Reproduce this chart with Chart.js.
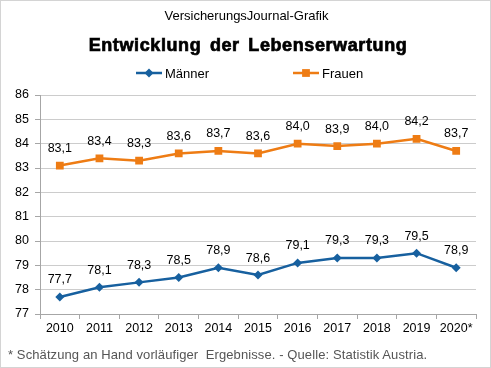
<!DOCTYPE html>
<html><head><meta charset="utf-8">
<script src="https://cdn.jsdelivr.net/npm/chart.js@4/dist/chart.umd.min.js"></script>
<style>
html,body{margin:0;padding:0;background:#fff;}
#wrap{position:relative;width:491px;height:368px;box-sizing:border-box;border:1px solid #d4d4d4;overflow:hidden;font-family:"Liberation Sans",Arial,sans-serif;}
#cv{position:absolute;left:0;top:0;}
.t{position:absolute;white-space:nowrap;}
</style></head>
<body><div id="wrap">
<canvas id="cv" width="491" height="368"></canvas>
<div class="t" id="sub" style="left:0;width:491px;text-align:center;top:7px;font-size:13px;color:#000;">VersicherungsJournal-Grafik</div>
<div class="t" id="ttl" style="left:0;width:494px;text-align:center;top:34px;font-size:18px;font-weight:bold;color:#000;word-spacing:3px;letter-spacing:0.6px;-webkit-text-stroke:0.7px #000;">Entwicklung der Lebenserwartung</div>
<div class="t" id="foot" style="left:7px;top:346px;font-size:13px;letter-spacing:0.1px;color:#555;">* Schätzung an Hand vorläufiger&nbsp; Ergebnisse. - Quelle: Statistik Austria.</div>
</div>
<script>
const categories = ["2010","2011","2012","2013","2014","2015","2016","2017","2018","2019","2020*"];
const maenner = [77.7,78.1,78.3,78.5,78.9,78.6,79.1,79.3,79.3,79.5,78.9];
const frauen  = [83.1,83.4,83.3,83.6,83.7,83.6,84.0,83.9,84.0,84.2,83.7];
const yTicks = [77,78,79,80,81,82,83,84,85,86];
const seriesNames = ["Männer","Frauen"];

const BLUE = "#17609F", ORANGE = "#EE7C14";
const FONT = "'Liberation Sans', Arial, sans-serif";

const fmt = v => v.toFixed(1).replace('.', ',');

const labelPlugin = {
  id: 'vals',
  afterDatasetsDraw(chart) {
    const ctx = chart.ctx;
    ctx.save();
    ctx.font = "12.5px " + FONT;
    ctx.fillStyle = "#000";
    ctx.textAlign = "center";
    ctx.textBaseline = "middle";
    chart.data.datasets.forEach((ds, i) => {
      chart.getDatasetMeta(i).data.forEach((pt, j) => {
        ctx.fillText(fmt(ds.data[j]), pt.x, pt.y - 17);
      });
    });
    ctx.restore();
  }
};

const legendPlugin = {
  id: 'leg',
  afterDraw(chart) {
    const ctx = chart.ctx;
    const items = [
      {x: 135, color: BLUE, style: 'rectRot', r: 4.5, name: seriesNames[0]},
      {x: 292, color: ORANGE, style: 'rect', r: 5.5, name: seriesNames[1]}
    ];
    const y = 72;
    ctx.save();
    items.forEach(it => {
      ctx.strokeStyle = it.color; ctx.lineWidth = 2.5;
      ctx.beginPath(); ctx.moveTo(it.x, y); ctx.lineTo(it.x + 26, y); ctx.stroke();
      ctx.fillStyle = it.color;
      Chart.helpers.drawPoint(ctx, {pointStyle: it.style, radius: it.r, borderWidth: 0}, it.x + 13, y);
      ctx.fillStyle = "#000";
      ctx.font = "13px " + FONT;
      ctx.textBaseline = "middle"; ctx.textAlign = "left";
      ctx.fillText(it.name, it.x + 29, y + 1);
    });
    ctx.restore();
  }
};

new Chart(document.getElementById('cv'), {
  type: 'line',
  data: {
    labels: categories,
    datasets: [
      {label: seriesNames[0], data: maenner, borderColor: BLUE, backgroundColor: BLUE, borderWidth: 2.5,
       pointStyle: 'rectRot', pointRadius: 4.5, pointBorderWidth: 0, tension: 0},
      {label: seriesNames[1], data: frauen, borderColor: ORANGE, backgroundColor: ORANGE, borderWidth: 2.5,
       pointStyle: 'rect', pointRadius: 5.5, pointBorderWidth: 0, tension: 0}
    ]
  },
  options: {
    responsive: false,
    animation: false,
    devicePixelRatio: 1,
    layout: {padding: {left: 0, right: 16, top: 94, bottom: 25}},
    plugins: {legend: {display: false}, title: {display: false}, tooltip: {enabled: false}},
    scales: {
      x: {
        offset: true,
        grid: {offset: true, drawOnChartArea: false, drawTicks: true, tickLength: 5, color: "#a6a6a6"},
        border: {color: "#a6a6a6", width: 1},
        ticks: {color: "#000", font: {family: FONT, size: 12.5}, padding: 2, maxRotation: 0, autoSkip: false},
        afterFit(s) { s.height = 30; }
      },
      y: {
        min: 77, max: 86,
        afterBuildTicks(s) { s.ticks = yTicks.map(v => ({value: v})); },
        grid: {color: "#cccccc", borderDash: [3, 1], tickBorderDash: [], tickColor: "#a6a6a6", tickLength: 5, drawTicks: true},
        border: {color: "#a6a6a6", width: 1},
        ticks: {color: "#000", font: {family: FONT, size: 12.5}, padding: 6},
        afterFit(s) { s.width = 39; }
      }
    }
  },
  plugins: [labelPlugin, legendPlugin]
});
</script>
</body></html>
